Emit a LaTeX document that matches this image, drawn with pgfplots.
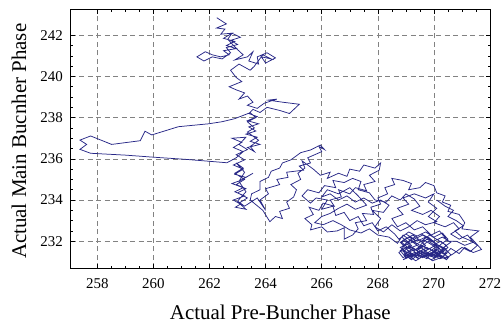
\documentclass[border=0pt]{standalone}
\usepackage{pgfplots}
\pgfplotsset{compat=1.18}
\usepackage{pgfplotstable}
\usepackage{fontspec}
\setmainfont{Liberation Serif}
\definecolor{traj}{RGB}{40,40,135}
\definecolor{gridc}{RGB}{130,130,130}
\pgfplotstableread{
x y
262.26 242.85
262.6 242.55
262.25 242.35
262.55 242.3
262.4 242.05
262.8 242.1
262.5 241.85
262.9 241.7
262.6 241.5
262.95 241.35
262.5 241.25
262.7 241.05
262.4 240.95
262.1 241.05
261.85 241.2
261.55 240.95
261.8 240.75
262.1 240.95
262.45 240.85
262.75 241.15
262.6 241.4
263.0 241.55
262.75 241.75
263.1 241.9
262.8 242.1
262.65 241.8
263.0 241.3
263.2 241.05
262.9 240.8
263.35 240.95
263.55 241.2
263.4 240.75
263.75 240.6
263.7 240.95
264.05 241.15
264.35 240.9
264.0 240.65
263.85 240.95
264.2 240.85
263.9 241.05
263.6 240.5
263.45 240.3
263.05 240.6
262.75 240.3
262.95 239.95
263.15 239.75
262.7 239.5
262.95 239.35
263.25 239.2
263.05 238.9
263.35 239.05
263.55 238.75
263.35 238.6
263.7 238.45
263.95 238.7
264.4 238.9
264.1 238.85
264.6 238.75
265.2 238.65
264.85 238.2
264.5 238.35
264.05 238.5
263.8 238.25
263.55 238.4
263.4 238.2
263.7 238.05
263.35 237.85
263.75 237.7
263.4 237.55
263.65 237.35
263.3 237.2
263.7 237.05
263.45 236.85
263.8 236.7
263.35 236.55
263.6 236.35
263.45 236.6
263.75 236.9
263.35 237.3
263.6 237.5
263.35 237.8
263.65 238.0
263.45 238.24
262.9 237.95
262.44 237.8
261.96 237.7
260.89 237.56
259.94 237.16
259.70 237.34
259.53 236.88
258.51 236.7
257.76 237.11
257.38 236.91
257.62 236.7
257.38 236.46
257.76 236.27
259.0 236.18
260.0 236.08
261.2 235.97
262.62 235.81
262.95 236.05
263.2 236.35
262.85 236.55
263.15 236.8
262.8 237.0
263.3 237.05
263.05 236.7
263.35 236.45
262.95 236.2
263.25 235.95
262.85 235.7
263.2 235.5
262.9 235.25
263.3 235.1
263.55 235.3
263.1 234.95
262.8 234.8
263.2 234.6
262.9 234.4
263.25 234.2
262.85 234.0
263.1 233.8
262.92 233.65
263.3 233.55
263.05 233.85
263.35 234.1
263.0 234.35
263.3 234.55
262.95 234.75
263.25 235.0
262.9 235.3
263.2 235.55
262.95 235.8
263.25 235.35
263.05 234.9
263.3 234.4
263.0 233.95
263.25 233.7
263.7 234.1
264.0 233.5
263.8 234.0
264.1 234.3
264.0 234.55
264.5 234.75
264.4 235.0
264.8 235.1
264.75 235.35
265.35 235.45
265.2 235.65
265.6 235.8
265.5 236.05
266.0 236.35
265.9 236.6
266.1 236.45
265.95 236.67
265.6 236.43
265.25 236.3
264.9 235.95
264.6 235.8
264.5 235.55
264.2 235.4
264.1 235.1
263.8 234.9
263.8 234.5
263.5 234.3
263.45 234.0
263.9 233.5
264.15 232.95
264.35 233.2
264.6 233.1
264.5 233.45
264.85 233.6
264.75 233.9
265.0 234.15
265.1 234.5
264.9 234.75
265.25 235.0
265.15 235.3
265.4 235.55
265.3 235.9
265.7 235.5
265.95 235.2
266.3 235.35
266.2 235.05
266.6 235.3
266.9 235.15
267.0 235.5
267.35 235.4
267.5 235.7
267.9 235.55
268.1 235.8
268.05 235.45
267.7 235.2
267.9 234.9
267.5 234.75
267.6 234.45
267.2 234.6
267.0 234.3
266.6 234.5
266.7 234.15
266.3 234.0
266.45 233.7
266.05 233.85
265.9 233.5
265.55 233.65
265.7 233.3
265.4 233.1
265.65 232.8
265.6 232.55
266.0 232.7
266.2 232.45
266.55 232.5
266.8 232.65
266.8 232.1
267.1 232.3
267.3 232.6
267.2 232.9
267.6 233.0
267.45 233.35
267.85 233.3
267.75 233.65
268.1 233.8
268.0 234.1
268.35 234.3
268.25 234.6
268.6 234.75
268.5 235.05
268.9 234.95
269.2 234.8
269.1 234.5
269.5 234.6
269.7 234.85
270.0 234.7
270.1 234.35
270.4 234.2
270.3 233.9
270.6 233.75
270.5 233.45
270.9 233.3
271.1 232.9
271.0 232.6
271.6 232.5
271.3 232.2
271.7 231.6
271.4 231.45
271.1 231.7
270.9 231.4
270.6 231.65
270.4 231.35
270.1 231.6
269.8 231.3
269.5 231.55
269.2 231.25
268.9 231.5
269.2 231.8
268.9 232.05
269.25 232.3
269.55 232.0
269.85 232.3
270.15 232.05
270.45 231.8
270.2 231.5
270.5 231.25
270.2 231.15
269.9 231.45
269.6 231.2
269.3 231.45
269.0 231.2
268.8 231.55
269.1 231.75
269.4 231.55
269.7 231.8
269.45 232.1
269.15 231.9
268.85 232.2
269.1 232.45
269.4 232.25
269.7 232.45
270.0 232.2
270.3 232.4
270.5 232.1
270.25 231.85
270.0 231.55
269.75 231.15
269.45 231.35
269.2 231.1
268.95 231.35
269.25 231.65
269.55 231.4
269.85 231.65
270.1 231.35
270.35 231.6
270.05 231.9
269.75 232.1
269.5 231.8
269.2 232.05
268.9 231.8
269.1 231.5
269.4 231.2
269.7 231.45
270.0 231.2
270.3 231.45
270.5 231.7
270.25 232.0
269.95 231.8
269.65 232.05
269.35 231.85
269.05 232.15
268.8 231.95
269.0 231.65
269.3 231.3
269.6 231.6
269.9 231.35
270.2 231.65
269.95 232.0
269.6 232.3
269.3 232.1
269.0 232.35
268.75 232.1
268.6 232.35
268.3 232.7
268.0 232.5
267.8 232.9
267.5 232.75
267.3 233.2
267.0 233.0
266.8 233.4
266.5 233.25
266.4 233.7
266.0 233.55
266.2 234.0
265.8 234.1
265.6 233.85
265.3 234.2
265.5 234.5
265.9 234.35
266.1 234.7
266.5 234.6
266.4 234.95
266.8 234.85
267.1 235.05
267.4 234.9
267.3 234.5
267.7 234.35
267.9 234.0
268.3 233.9
268.5 234.2
268.8 234.0
269.0 234.3
269.3 234.05
269.5 233.7
269.2 233.5
269.6 233.3
269.9 233.5
270.2 233.2
270.0 232.9
270.4 232.7
270.7 232.9
270.9 232.6
270.6 232.35
270.9 232.1
271.2 232.3
271.4 231.95
271.1 231.8
270.8 232.0
270.5 232.0
270.2 232.5
269.9 232.3
269.6 232.7
269.3 232.55
269.0 232.9
268.7 232.7
268.5 233.1
268.9 233.3
268.7 233.6
269.1 233.8
268.9 234.1
269.3 234.3
269.7 234.1
270.0 234.3
269.8 233.9
270.1 233.6
269.8 233.2
270.1 232.95
269.7 232.8
269.4 233.0
269.1 232.7
268.8 232.5
268.5 232.8
268.2 232.45
267.9 232.7
268.1 233.1
267.8 233.5
268.2 233.4
268.4 233.75
268.1 234.0
267.8 233.85
267.5 234.1
267.2 233.9
266.9 234.2
266.6 234.0
266.3 234.3
266.0 234.15
266.2 234.5
266.6 234.3
267.0 234.6
267.3 234.2
267.6 233.75
267.2 233.55
266.9 233.8
266.6 233.6
266.3 233.35
266.0 233.2
265.75 232.9
266.05 232.8
266.4 233.0
266.7 232.8
267.0 232.55
267.4 232.4
267.7 232.6
268.0 232.3
268.4 232.2
268.7 231.9
268.9 232.3
269.2 232.0
269.5 231.7
269.8 232.0
270.1 231.75
269.85 231.5
269.55 231.25
269.25 231.55
268.95 231.4
269.15 231.15
269.45 231.45
269.75 231.7
270.05 231.45
270.35 231.25
270.45 231.55
270.15 231.8
269.85 232.15
269.55 232.35
269.25 232.15
269.0 231.9
268.85 231.6
269.1 231.3
269.35 231.05
269.65 231.3
269.9 231.1
270.2 231.3
270.45 231.1
270.6 231.35
270.35 231.7
270.6 231.95
270.3 232.2
270.0 232.0
269.7 232.2
269.4 232.0
269.1 232.2
268.85 231.95
269.1 231.65
269.4 231.8
269.7 231.55
270.0 231.75
270.3 231.55
270.05 231.25
269.75 231.4
269.45 231.15
269.15 231.4
268.9 231.2
268.75 231.45
269.0 231.7
269.3 231.55
269.55 231.8
269.8 231.6
270.1 231.85
270.4 231.65
270.2 231.4
269.95 231.55
269.65 231.75
269.35 231.6
269.05 231.85
268.8 231.7
269.05 231.45
269.35 231.25
269.6 231.5
269.9 231.25
270.15 231.5
270.45 231.4
270.25 231.2
269.95 231.05
269.7 231.3
269.4 231.45
269.15 231.25
268.9 231.1
269.2 231.35
269.6 231.25
270.0 231.35
270.4 231.15
270.7 231.4
271.0 231.7
271.3 231.5
271.55 231.8
271.35 232.0
271.0 232.2
270.75 232.5
271.05 232.75
270.8 233.0
270.5 233.2
270.7 233.5
270.4 233.7
270.1 234.0
}\trajdata
\begin{document}
\begin{tikzpicture}
\useasboundingbox (-70.7bp,-56bp) rectangle (430.3bp,268bp);
\begin{axis}[
  scale only axis,
  width=419.3bp, height=258.5bp,
  xmin=257.05, xmax=272, ymin=230.7, ymax=243.25,
  xtick={258,260,...,272}, ytick={232,234,...,242},
  minor x tick num=3, minor y tick num=3,
  tick align=inside, tick pos=both,
  major tick length=4.5bp, minor tick length=2.5bp,
  every tick/.style={black, line width=0.5bp},
  axis line style={black, line width=1bp},
  grid=major,
  major grid style={gridc, line width=0.6bp, dash pattern=on 5bp off 3.5bp},
  /pgf/number format/assume math mode=true,
  /pgf/number format/1000 sep={},
  ticklabel style={font=\fontsize{15}{18}\selectfont, inner sep=0pt},
  xticklabel style={anchor=base, yshift=-20bp},
  yticklabel style={anchor=east, xshift=-7.7bp},
  every axis x label/.style={at={(axis description cs:0.5,-0.2011)}, anchor=base, font=\fontsize{21}{25}\selectfont},
  every axis y label/.style={at={(axis description cs:-0.1066,0.49)}, anchor=base, rotate=90, font=\fontsize{21}{25}\selectfont},
  xlabel={Actual Pre-Buncher Phase},
  ylabel={Actual Main Bucnher Phase},
]
\addplot[traj, line width=0.75bp, mark=none] table[x=x, y=y] {\trajdata};
\end{axis}
\end{tikzpicture}
\end{document}
